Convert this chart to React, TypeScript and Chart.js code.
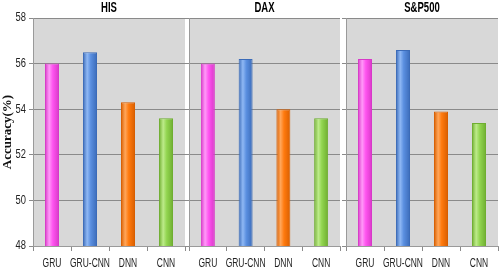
import React, { useEffect, useRef } from 'react';
import { Chart, registerables } from 'chart.js';
Chart.register(...registerables);

const categories = ['GRU', 'GRU-CNN', 'DNN', 'CNN'];
const panelTitles = ['HIS', 'DAX', 'S&P500'];
const hisValues = [56.0, 56.5, 54.3, 53.6];
const daxValues = [56.0, 56.2, 54.0, 53.6];
const spValues = [56.2, 56.6, 53.9, 53.4];
const yTicks = [48, 50, 52, 54, 56, 58];
const yTitle = 'Accuracy(%)';

const barBase = ['#FF55F0', '#5A8FE0', '#FF7A0E', '#92D550'];
const barEdge = ['#D838C8', '#3B6BB8', '#D85E00', '#6FAE30'];
const barLight = ['#FF9AF8', '#8FB8F4', '#FFA65A', '#BDEB8A'];

const SANS = '"Liberation Sans", Arial, sans-serif';

const bgPlugin = {
  id: 'panelBg',
  beforeDraw(chart: any) {
    const { ctx, chartArea } = chart;
    ctx.save();
    ctx.fillStyle = '#D8D8D8';
    ctx.fillRect(chartArea.left, chartArea.top, chartArea.right - chartArea.left, chartArea.bottom - chartArea.top);
    ctx.restore();
  },
};

const gradPlugin = {
  id: 'barGrad',
  beforeDatasetsDraw(chart: any) {
    const ctx = chart.ctx;
    chart.getSortedVisibleDatasetMetas().forEach((meta: any) => {
      meta.data.forEach((el: any, i: number) => {
        const l = el.x - el.width / 2;
        const r = el.x + el.width / 2;
        const g = ctx.createLinearGradient(l, 0, r, 0);
        g.addColorStop(0, barEdge[i]);
        g.addColorStop(0.3, barLight[i]);
        g.addColorStop(0.55, barBase[i]);
        g.addColorStop(1, barEdge[i]);
        if (el.options) el.options.backgroundColor = g;
      });
    });
  },
};

function narrowText(ctx: any, text: string, x: number, y: number, align: string, font: string, scale: number) {
  ctx.save();
  ctx.translate(x, y);
  ctx.scale(scale, 1);
  ctx.font = font;
  ctx.textAlign = align;
  ctx.textBaseline = 'middle';
  ctx.fillText(text, 0, 0);
  ctx.restore();
}

const textPlugin = {
  id: 'narrowText',
  afterDraw(chart: any, _args: any, opts: any) {
    const { ctx, chartArea } = chart;
    const xs = chart.scales.x;
    const ys = chart.scales.y;
    ctx.save();
    ctx.fillStyle = '#000';
    narrowText(ctx, opts.title, (chartArea.left + chartArea.right) / 2, 8.5, 'center', `bold 14px ${SANS}`, 0.68);
    ctx.fillStyle = '#222';
    categories.forEach((c, i) => {
      narrowText(ctx, c, xs.getPixelForTick(i), 263, 'center', `13px ${SANS}`, 0.65);
    });
    if (opts.showY) {
      yTicks.forEach((v) => {
        narrowText(ctx, String(v), chartArea.left - 7, ys.getPixelForValue(v), 'right', `12px ${SANS}`, 0.78);
      });
    }
    ctx.restore();
  },
};

type PanelProps = {
  title: string;
  values: number[];
  left: number;
  width: number;
  axisWidth: number;
  rightPad: number;
  showLabels: boolean;
};

function Panel({ title, values, left, width, axisWidth, rightPad, showLabels }: PanelProps) {
  const ref = useRef<HTMLCanvasElement>(null);
  useEffect(() => {
    if (!ref.current) return;
    const chart = new Chart(ref.current, {
      type: 'bar',
      data: {
        labels: categories,
        datasets: [
          {
            data: values,
            backgroundColor: barBase,
            borderColor: barEdge,
            borderWidth: 1,
            barPercentage: 0.37,
            categoryPercentage: 1,
          },
        ],
      },
      options: {
        animation: false,
        responsive: false,
        maintainAspectRatio: false,
        layout: { padding: { left: 0, right: rightPad, top: 18, bottom: 0 } },
        plugins: {
          legend: { display: false },
          tooltip: { enabled: false },
          title: { display: false },
          narrowText: { title, showY: showLabels },
        },
        scales: {
          x: {
            grid: { display: true, drawOnChartArea: false, offset: true, tickLength: 5, color: '#8A8A8A' },
            border: { color: '#9A9A9A' },
            ticks: { display: false },
            afterFit: (s: any) => {
              s.height = 27;
            },
          },
          y: {
            min: 48,
            max: 58,
            afterBuildTicks: (s: any) => {
              s.ticks = yTicks.map((v) => ({ value: v }));
            },
            grid: { color: '#8A8A8A', tickLength: 4 },
            border: { color: '#9A9A9A' },
            ticks: { display: false },
            title: {
              display: showLabels,
              text: yTitle,
              color: '#111',
              font: { size: 13, weight: 'bold', family: '"Liberation Serif", "DejaVu Serif", serif' },
              padding: { top: 0, bottom: 0 },
            },
            afterFit: (s: any) => {
              s.width = axisWidth;
            },
          },
        },
      },
      plugins: [bgPlugin, gradPlugin, textPlugin],
    } as any);
    return () => chart.destroy();
  }, []);
  return (
    <canvas
      ref={ref}
      width={width}
      height={273}
      style={{ position: 'absolute', left, top: 0, width, height: 273 }}
    />
  );
}

export default function App() {
  return (
    <div style={{ position: 'absolute', left: 0, top: 0, width: 499, height: 273, background: '#fff', overflow: 'hidden' }}>
      <Panel title={panelTitles[0]} values={hisValues} left={0} width={187} axisWidth={33} rightPad={2} showLabels={true} />
      <Panel title={panelTitles[1]} values={daxValues} left={185} width={156} axisWidth={4} rightPad={1} showLabels={false} />
      <Panel title={panelTitles[2]} values={spValues} left={341} width={158} axisWidth={5} rightPad={1} showLabels={false} />
    </div>
  );
}
